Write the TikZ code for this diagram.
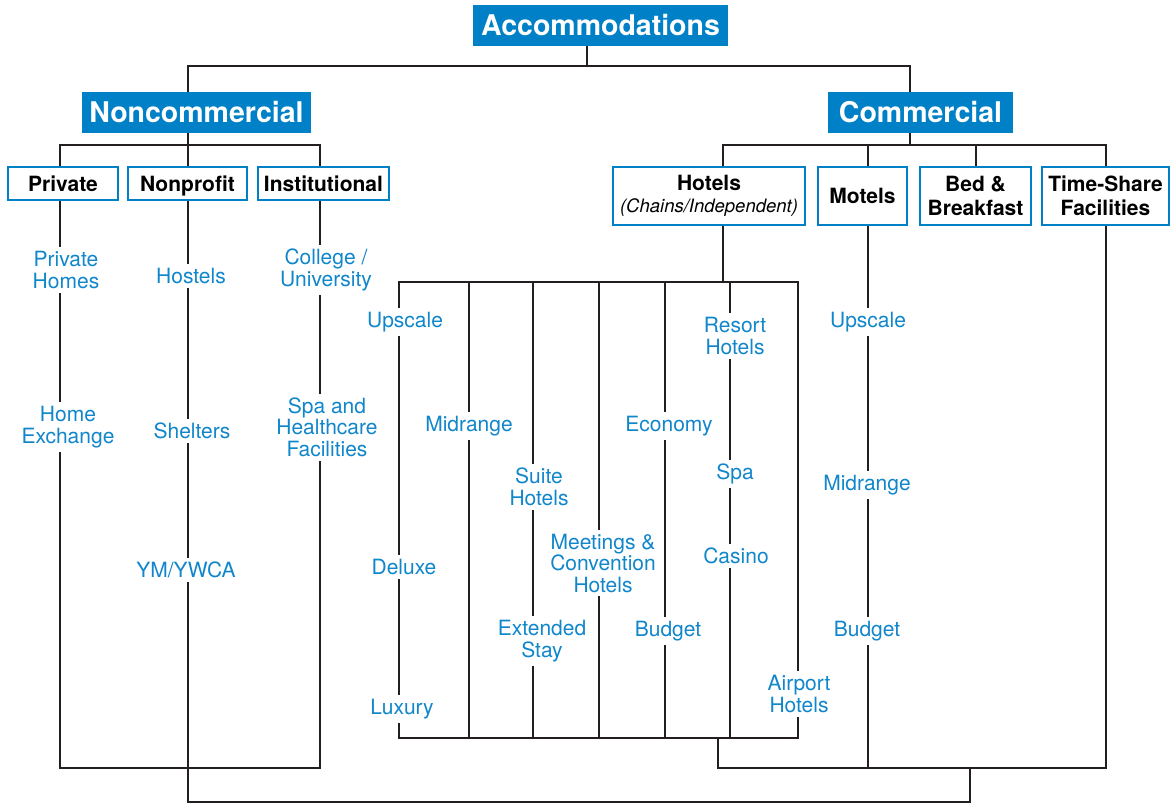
\documentclass[tikz,border=0pt]{standalone}
\usepackage{fontspec}
\setmainfont{TeX Gyre Heros}
\definecolor{cblue}{RGB}{0,128,198}
\definecolor{lblue}{RGB}{16,134,203}
\definecolor{linec}{RGB}{35,31,32}
\begin{document}
\begin{tikzpicture}[x=1pt,y=-1pt,
 title/.style={fill=cblue,text=white,font=\bfseries\fontsize{28.5}{30}\selectfont,inner sep=0pt,minimum height=41pt,text height=20.5pt,text depth=0pt},
 catbox/.style={draw=cblue,line width=2.8pt,fill=white,font=\bfseries\fontsize{21}{24.5}\selectfont,inner sep=0pt,align=center,text=black},
 onebox/.style={catbox,text height=15pt,text depth=0pt,minimum height=33pt},
 lbl/.style={fill=white,text=lblue,font=\fontsize{21}{21.5}\selectfont,align=center,inner xsep=1pt,inner ysep=4pt},
 conn/.style={draw=linec,line width=2.6pt}]
\useasboundingbox (0,0) rectangle (1173,804);

% title boxes
\node[title,minimum width=255pt] (acc) at (600.5,25.5) {Accommodations};
\node[title,minimum width=229pt] (noncom) at (196.5,112.5) {Noncommercial};
\node[title,minimum width=185pt] (com) at (920.5,112.5) {Commercial};

% category boxes
\node[onebox,minimum width=110pt] (priv) at (63,183.5) {Private};
\node[onebox,minimum width=119pt] (nonp) at (187.5,183.5) {Nonprofit};
\node[onebox,minimum width=131pt] (inst) at (323.5,183.5) {Institutional};
\node[catbox,minimum width=192pt,minimum height=58pt] (hot) at (709,196) {Hotels\\[-2pt]{\mdseries\itshape\fontsize{18.5}{21}\selectfont (Chains/Independent)}};
\node[catbox,minimum width=89pt,minimum height=58pt] (mot) at (862.5,196) {Motels};
\node[catbox,minimum width=111pt,minimum height=58pt] (bb) at (975.5,196) {Bed \&\\Breakfast};
\node[catbox,minimum width=127pt,minimum height=58pt] (ts) at (1105.5,196) {Time-Share\\Facilities};

% junction coordinates
\coordinate (aJ) at (587,66);
\coordinate (nJ) at (188,66);
\coordinate (cJ) at (910,66);
\coordinate (nH) at (188,145);
\coordinate (cH) at (910,145);
\coordinate (pB) at (60,768);
\coordinate (iB) at (320,768);
\coordinate (npB) at (188,802);
\coordinate (cB) at (970,802);
\coordinate (cBJ) at (970,768);
\coordinate (hT) at (723,282);
\coordinate (gTL) at (399,282);
\coordinate (gBR) at (798,738);
\coordinate (hB) at (718,738);
\coordinate (hBJ) at (718,768);
\coordinate (tsB) at (1106,768);

% top level connectors
\draw[conn] (acc.south -| aJ) -- (aJ);
\draw[conn] (noncom.north -| nJ) -- (nJ) -- (cJ) -- (com.north -| cJ);

% noncommercial
\draw[conn] (noncom.south -| nH) -- (nH);
\draw[conn] (priv.north -| pB) -- (pB |- nH) -- (iB |- nH) -- (inst.north -| iB);
\draw[conn] (nH) -- (nonp.north -| nH);
\draw[conn] (priv.south -| pB) -- (pB) -- (iB) -- (inst.south -| iB);
\draw[conn] (nonp.south -| npB) -- (npB) -- (cB) -- (cBJ);

% commercial
\draw[conn] (com.south -| cH) -- (cH);
\draw[conn] (hot.north -| hT) -- (hT |- cH) -- (tsB |- cH) -- (ts.north -| tsB);
\draw[conn] (868,145) -- (mot.north -| 868,0);
\draw[conn] (976,145) -- (bb.north -| 976,0);
\draw[conn] (hot.south -| hT) -- (hT);
\draw[conn] (gTL) rectangle (gBR);
\foreach \c in {469,533,599,665,730} \draw[conn] (\c,282) -- (\c,738);
\draw[conn] (hB) -- (hBJ) -- (tsB) -- (ts.south -| tsB);
\draw[conn] (mot.south -| 868,0) -- (868,768);

% labels: noncommercial
\node[lbl] (ph) at (66,270) {Private\\Homes};
\node[lbl] (he) at (68,427) {Home\\Exchange};
\node[lbl] (hs) at (191,276) {Hostels};
\node[lbl] (sh) at (192,431) {Shelters};
\node[lbl] (ym) at (186,570) {YM/YWCA};
\node[lbl] (cu) at (326,270) {College /\\University};
\node[lbl] (sp) at (327,427) {Spa and\\Healthcare\\Facilities};

% labels: hotels
\node[lbl] (hu) at (405,322) {Upscale};
\node[lbl] (hd) at (404,567) {Deluxe};
\node[lbl] (hl) at (402,709) {Luxury};
\node[lbl] (hm) at (469,426) {Midrange};
\node[lbl] (hsu) at (539,487) {Suite\\Hotels};
\node[lbl] (hes) at (542,641) {Extended\\Stay};
\node[lbl] (hmc) at (603,563) {Meetings \&\\Convention\\Hotels};
\node[lbl] (he2) at (669,426) {Economy};
\node[lbl] (hbu) at (668,631) {Budget};
\node[lbl] (hr) at (735,336) {Resort\\Hotels};
\node[lbl] (hsp) at (735,474) {Spa};
\node[lbl] (hc) at (736,556) {Casino};
\node[lbl] (ha) at (799,694) {Airport\\Hotels};

% labels: motels
\node[lbl] (mu) at (868,322) {Upscale};
\node[lbl] (mm) at (867,485) {Midrange};
\node[lbl] (mb) at (867,631) {Budget};
\end{tikzpicture}
\end{document}
